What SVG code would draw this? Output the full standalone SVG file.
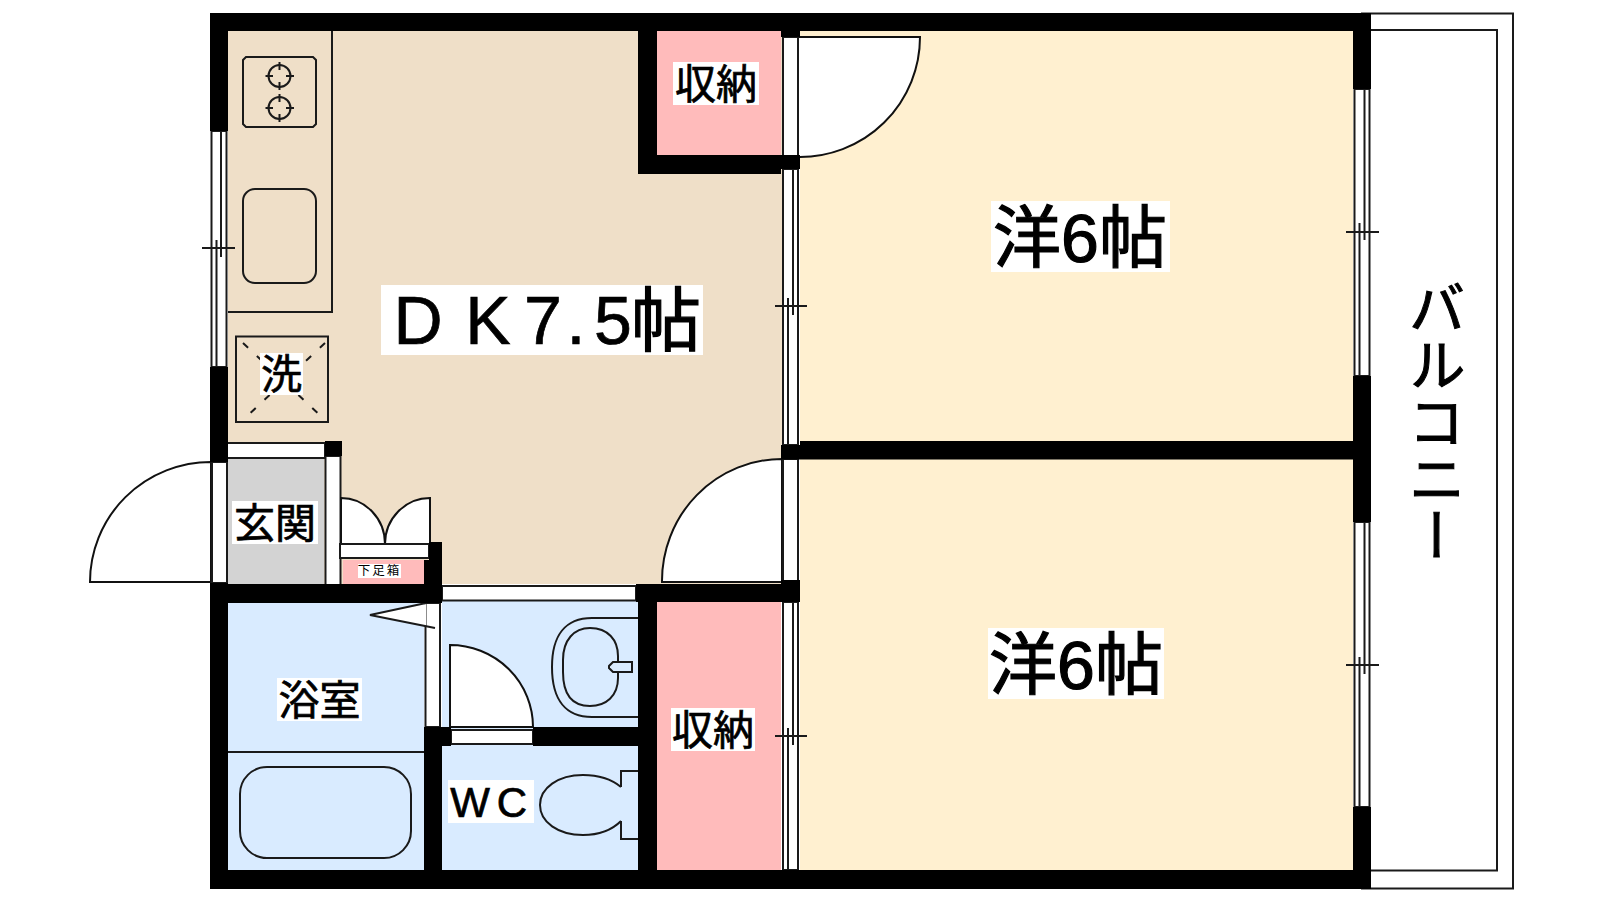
<svg xmlns="http://www.w3.org/2000/svg" width="1600" height="900" viewBox="0 0 1600 900">
<style>
.w{fill:#000}
.l{fill:none;stroke:#1a1a1a;stroke-width:2}
.d{fill:#fff;stroke:#111;stroke-width:2}
.s{fill:#fff;stroke:#1a1a1a;stroke-width:2}
.bg{fill:#fff}
.t{font-family:"Noto Sans CJK JP","Noto Sans",sans-serif;fill:#000;stroke:#000;stroke-width:.7;text-anchor:middle}
.a{font-family:"Liberation Sans",sans-serif}
</style>
<rect width="1600" height="900" fill="#fff"/>
<g id="floors">
<rect x="228" y="31" width="554" height="553" fill="#EFDFC8"/>
<rect x="800" y="31" width="553" height="839" fill="#FFF0D0"/>
<rect x="657" y="31" width="124" height="124" fill="#FFBBBB"/>
<rect x="657" y="602" width="124" height="268" fill="#FFBBBB"/>
<rect x="228" y="459" width="96" height="125" fill="#D3D3D3"/>
<rect x="343" y="560" width="81" height="24" fill="#FFBBBB"/>
<rect x="228" y="603" width="196" height="267" fill="#D9EBFF"/>
<rect x="442" y="601" width="196" height="269" fill="#D9EBFF"/>
</g>
<g id="balcony">
<rect x="1362" y="13.500" width="151" height="875" class="l"/>
<rect x="1362" y="30" width="135" height="840.500" class="l"/>
</g>
<g id="windows">
<rect x="211.500" y="131" width="15" height="236" class="s"/>
<path class="l" d="M221 131V257M216.500 240V367M202 248H235"/>
<rect x="783" y="169" width="15" height="276" class="s"/>
<path class="l" d="M793 169V315M788 298V445M775 306H807"/>
<rect x="783" y="602" width="15" height="268" class="s"/>
<path class="l" d="M793 602V745M788 728V870M775 736H807"/>
<rect x="1354.500" y="89" width="15" height="287" class="s"/>
<path class="l" d="M1364.500 89V240M1359.500 223V376M1346 232H1379"/>
<rect x="1354.500" y="522" width="15" height="285" class="s"/>
<path class="l" d="M1364.500 522V674M1359.500 657V807M1346 665H1379"/>
</g>
<g id="doors">
<path class="d" d="M798 37H920A120 120 0 0 1 798 157Z"/>
<rect x="783" y="37" width="15" height="120" class="s"/>
<path class="d" d="M782 582H662A120 122 0 0 1 782 459Z"/>
<rect x="783" y="459" width="15" height="122" class="s"/>
<path class="d" d="M211 582H90A121 120 0 0 1 211 462Z"/>
<rect x="212" y="462" width="15" height="121" class="s"/>
<rect x="227" y="443" width="98" height="15" class="s"/>
<rect x="325.500" y="456" width="15" height="129" class="s"/>
<path class="d" d="M341 498A44 46 0 0 1 385 544H341Z"/>
<path class="d" d="M430 498A45 46 0 0 0 385 544H430Z"/>
<rect x="340" y="544" width="89" height="14" class="s"/>
<rect x="442" y="586" width="194" height="14.500" class="s"/>
<rect x="425.500" y="603" width="14.500" height="124" class="s"/>
<path d="M426 604L372 615L426 626Z" fill="#fff"/>
<path class="l" d="M426 603L370 615L435 628"/>
<path class="d" d="M450 645A83 82 0 0 1 533 727H450Z"/>
<rect x="451" y="730" width="82" height="14" class="s"/>
</g>
<g id="walls">
<rect class="w" x="210" y="13" width="1161" height="18"/>
<rect class="w" x="210" y="870" width="1161" height="19"/>
<rect class="w" x="210" y="13" width="18" height="118"/>
<rect class="w" x="210" y="367" width="18" height="95"/>
<rect class="w" x="210" y="583" width="18" height="306"/>
<rect class="w" x="1353" y="13" width="18" height="76"/>
<rect class="w" x="1353" y="376" width="18" height="146"/>
<rect class="w" x="1353" y="807" width="18" height="82"/>
<rect class="w" x="800" y="441" width="553" height="18.500"/>
<rect class="w" x="781" y="445" width="19" height="14.500"/>
<rect class="w" x="638" y="31" width="19" height="143"/>
<rect class="w" x="638" y="155" width="143" height="19"/>
<rect class="w" x="781" y="155" width="19" height="14"/>
<rect class="w" x="781" y="31" width="19" height="6"/>
<rect class="w" x="636" y="584" width="164" height="18"/>
<rect class="w" x="781" y="580" width="19" height="22"/>
<rect class="w" x="638" y="602" width="19" height="268"/>
<rect class="w" x="210" y="584" width="232" height="19"/>
<rect class="w" x="325" y="441" width="17" height="15"/>
<rect class="w" x="424" y="560" width="18" height="43"/>
<rect class="w" x="429" y="542" width="13" height="20"/>
<rect class="w" x="424" y="727" width="18" height="143"/>
<rect class="w" x="424" y="727" width="27" height="19"/>
<rect class="w" x="533" y="727" width="105" height="19"/>
</g>
<g id="kitchen">
<path class="l" d="M332 31V312H228"/>
<path class="l" d="M246 57H313L316 60V124L313 127H246L243 124V60Z"/>
<circle class="l" cx="279.500" cy="76" r="11"/>
<circle class="l" cx="279.500" cy="108" r="11"/>
<path class="l" d="M279.500 62V70M279.500 82V90M265.500 76H273M286 76H294M279.500 94V102M279.500 114V122M265.500 108H273M286 108H294"/>
<rect class="l" x="243" y="189" width="73" height="94" rx="12"/>
</g>
<g id="washer">
<rect class="l" x="236" y="336.500" width="92" height="85.500"/>
<path class="l" d="M243 343L325 420M325 343L243 420" stroke-dasharray="7 12"/>
</g>
<g id="bath">
<path class="l" d="M228 752H424"/>
<rect class="l" x="240" y="767" width="171" height="91" rx="27"/>
</g>
<g id="basin">
<path class="l" d="M638 618H592C565 618 552 636 552 667C552 700 566 717 592 717H638"/>
<path class="l" d="M590 628C608 628 618 640 618 656V678C618 696 606 706 590 706C572 706 563 694 563 672V660C563 640 574 628 590 628Z"/>
<path class="l" d="M618 662H632V672H613L609 668V666L613 662Z" style="fill:#D9EBFF"/>
</g>
<g id="toilet">
<path class="l" d="M621 787C610 778 595 775 583 775C558 775 540 788 540 805C540 822 558 835 583 835C600 835 612 830 621 821"/>
<path class="l" d="M621 787V771H638M621 821V839H638"/>
</g>
<g id="labels">
<rect class="bg" x="381" y="285" width="322" height="70"/>
<text class="t a" x="418" y="344" font-size="68">D</text>
<text class="t a" x="488" y="344" font-size="68">K</text>
<text class="t a" x="543" y="344" font-size="68">7</text>
<text class="t a" x="576" y="344" font-size="68">.</text>
<text class="t a" x="613" y="344" font-size="68">5</text>
<text class="t" x="666" y="346" font-size="70" style="stroke-width:1.200">帖</text>
<rect class="bg" x="991" y="201" width="179" height="71"/>
<text class="t" x="1080" y="262" font-size="68" style="stroke-width:1.200"><tspan>洋</tspan><tspan class="a">6</tspan><tspan>帖</tspan></text>
<rect class="bg" x="988" y="628" width="176" height="71"/>
<text class="t" x="1076" y="689" font-size="68" style="stroke-width:1.200"><tspan>洋</tspan><tspan class="a">6</tspan><tspan>帖</tspan></text>
<rect class="bg" x="673" y="62" width="86" height="43"/>
<text class="t" x="716" y="99" font-size="41">収納</text>
<rect class="bg" x="671" y="708" width="84" height="43"/>
<text class="t" x="713" y="745" font-size="41">収納</text>
<rect class="bg" x="260" y="353" width="43" height="42"/>
<text class="t" x="281.500" y="389" font-size="41">洗</text>
<rect class="bg" x="232" y="501" width="86" height="43"/>
<text class="t" x="275" y="538" font-size="41">玄関</text>
<rect class="bg" x="277" y="678" width="85" height="43"/>
<text class="t" x="319.500" y="715" font-size="41">浴室</text>
<rect class="bg" x="448" y="780" width="86" height="43"/>
<text class="t a" x="470" y="817" font-size="42">W</text>
<text class="t a" x="512" y="817" font-size="42">C</text>
<rect class="bg" x="358" y="564" width="43" height="14"/>
<text class="t" x="379.500" y="575" font-size="12.500" letter-spacing="2" style="stroke-width:0">下足箱</text>
<text class="t" x="1437" y="279" font-size="57" style="writing-mode:vertical-rl;text-orientation:upright;text-anchor:start;stroke-width:1">バルコニー</text>
</g>
</svg>
